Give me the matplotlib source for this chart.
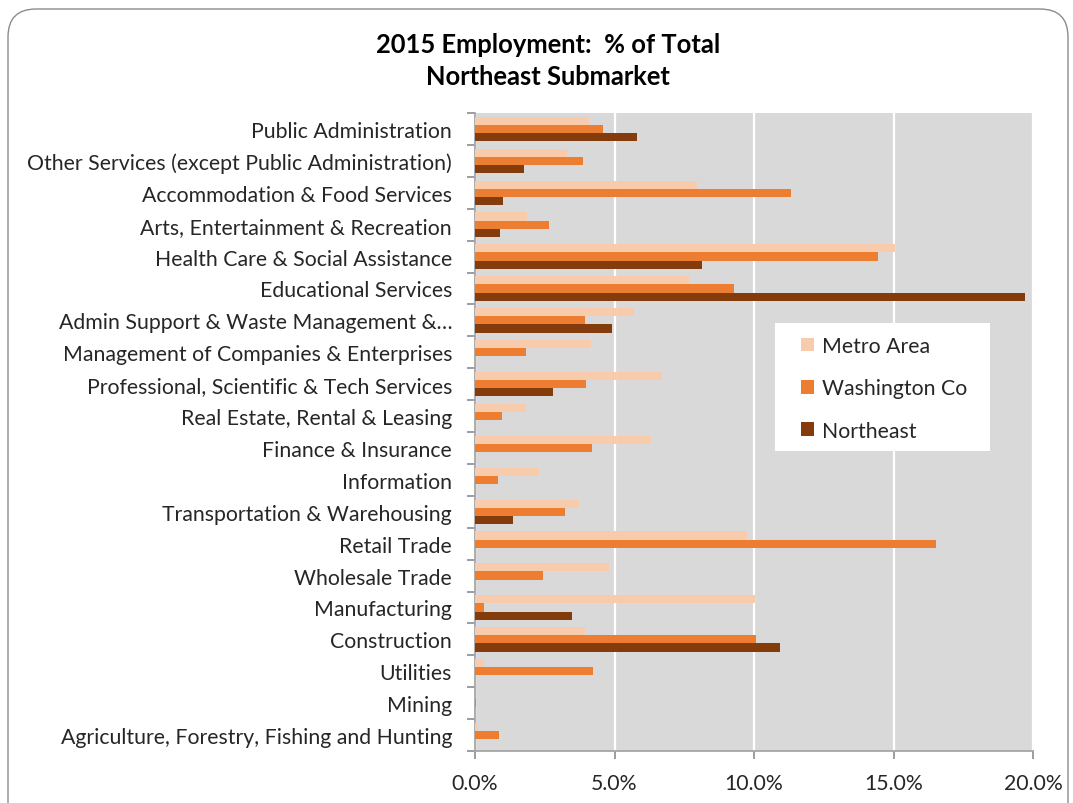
import matplotlib
matplotlib.use("Agg")
import matplotlib.pyplot as plt
import numpy as np
from matplotlib.patches import FancyBboxPatch, Rectangle
from matplotlib.transforms import IdentityTransform
from matplotlib.ticker import FuncFormatter, MultipleLocator, FixedLocator

categories = [
    "Agriculture, Forestry, Fishing and Hunting",
    "Mining",
    "Utilities",
    "Construction",
    "Manufacturing",
    "Wholesale Trade",
    "Retail Trade",
    "Transportation & Warehousing",
    "Information",
    "Finance & Insurance",
    "Real Estate, Rental & Leasing",
    "Professional, Scientific & Tech Services",
    "Management of Companies & Enterprises",
    "Admin Support & Waste Management &\u2026",
    "Educational Services",
    "Health Care & Social Assistance",
    "Arts, Entertainment & Recreation",
    "Accommodation & Food Services",
    "Other Services (except Public Administration)",
    "Public Administration",
]

metro_area = [0.11, 0.0, 0.31, 3.93, 10.03, 4.82, 9.76, 3.73, 2.28, 6.31,
              1.79, 6.72, 4.15, 5.70, 7.68, 15.05, 1.85, 7.95, 3.29, 4.08]
washington_co = [0.87, 0.05, 4.22, 10.08, 0.31, 2.44, 16.53, 3.22, 0.84, 4.18,
                 0.95, 3.98, 1.84, 3.93, 9.28, 14.43, 2.64, 11.31, 3.86, 4.58]
northeast = [0.0, 0.0, 0.0, 10.93, 3.46, 0.0, 0.0, 1.35, 0.0, 0.0,
             0.0, 2.81, 0.0, 4.90, 19.71, 8.12, 0.88, 0.99, 1.76, 5.79]

series_names = ["Metro Area", "Washington Co", "Northeast"]
colors = ["#F8CBAD", "#ED7D31", "#843C0C"]

plt.rcParams['font.family'] = ['Lato', 'DejaVu Sans']

W, H = 1073, 804
fig = plt.figure(figsize=(W / 100, H / 100), dpi=100)

# rounded border
border = FancyBboxPatch((8, -60), 1060, 854, boxstyle="round,pad=0,rounding_size=28",
                        transform=IdentityTransform(), facecolor="none",
                        edgecolor="#8C8C8C", linewidth=1.0, zorder=-1)
fig.patches.append(border)

ax = fig.add_axes([475 / W, 1 - 752 / H, 558 / W, 638 / H])
ax.set_facecolor("#D9D9D9")

y = np.arange(len(categories))
h = 0.255
for i, (vals, name, c) in enumerate(zip([metro_area, washington_co, northeast], series_names, colors)):
    offset = (1 - i) * h
    ax.barh(y + offset, vals, height=h, color=c, label=name, zorder=3,
            edgecolor="none")

ax.set_xlim(0, 20)
ax.set_ylim(-0.5, len(categories) - 0.5)
ax.xaxis.set_major_locator(MultipleLocator(5))
ax.xaxis.set_major_formatter(FuncFormatter(lambda v, p: f"{v:.1f}%"))
ax.grid(axis="x", color="white", linewidth=1.6, zorder=1)
ax.set_axisbelow(True)

FS = 15.3
ax.set_yticks(y)
ax.set_yticklabels(categories)
ax.yaxis.set_minor_locator(FixedLocator(np.arange(-0.5, len(categories), 1.0)))
ax.tick_params(axis="y", which="major", length=0, pad=16.5, labelsize=FS, labelcolor="#262626")
ax.tick_params(axis="y", which="minor", length=6, color="#8C8C8C", width=1.2)
ax.tick_params(axis="x", which="major", length=6, color="#8C8C8C", width=1.2, pad=10,
               labelsize=FS, labelcolor="#262626")

for s in ["top", "right"]:
    ax.spines[s].set_visible(False)
for s in ["left", "bottom"]:
    ax.spines[s].set_color("#A6A6A6")
    ax.spines[s].set_linewidth(1.3)

# legend box
x0 = (775 - 475) / 558
x1 = (990 - 475) / 558
y0 = (752 - 452) / 638
y1 = (752 - 324) / 638
ax.add_patch(Rectangle((x0, y0), x1 - x0, y1 - y0, transform=ax.transAxes,
                       facecolor="white", edgecolor="none", zorder=5))

leg = ax.legend(loc="upper left", bbox_to_anchor=((801 - 475) / 558, (752 - 337) / 638),
                frameon=False, fontsize=FS, handlelength=0.63,
                handleheight=0.63, labelspacing=1.05, borderpad=0, handletextpad=0.35,
                borderaxespad=0)
leg.set_zorder(6)
for t in leg.get_texts():
    t.set_color("#262626")

fig.text(548 / W, 1 - 45 / H, "2015 Employment:  % of Total", ha="center", va="center",
         fontsize=18.4, fontweight="bold", color="#000000")
fig.text(548 / W, 1 - 77 / H, "Northeast Submarket", ha="center", va="center",
         fontsize=18.4, fontweight="bold", color="#000000")

fig.savefig("out.png", dpi=100)
